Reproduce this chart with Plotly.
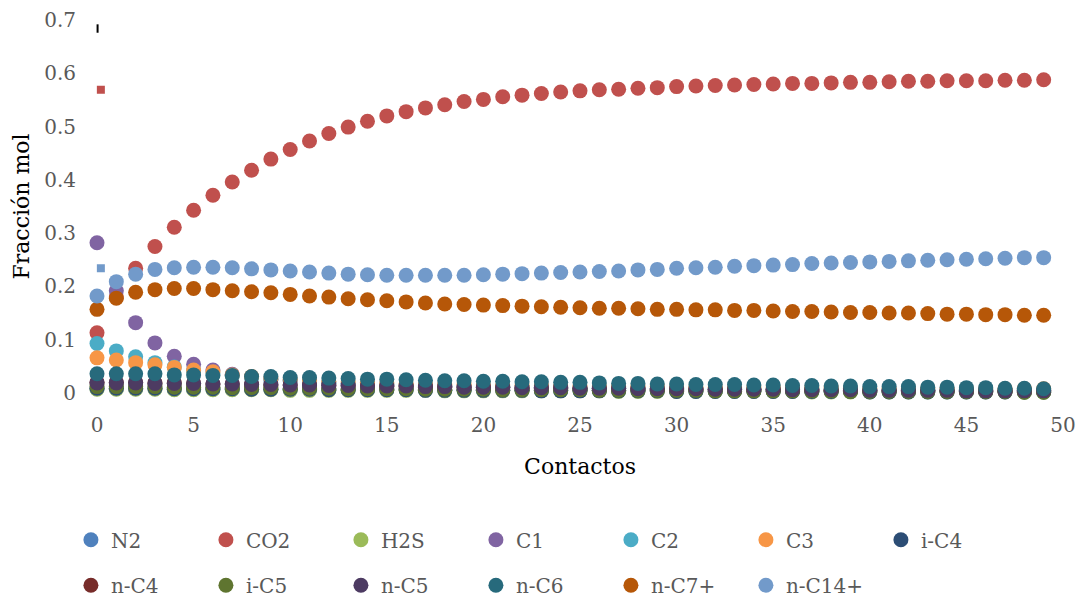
import plotly.graph_objects as go

# Contact number (x axis)
contactos = list(range(50))

# Mole fraction of each component after every contact
n2 = [0.008, 0.008, 0.008, 0.008, 0.007, 0.007, 0.007, 0.007, 0.007, 0.007,
      0.006, 0.006, 0.006, 0.006, 0.006, 0.006, 0.006, 0.006, 0.005, 0.005,
      0.005, 0.005, 0.005, 0.005, 0.005, 0.005, 0.005, 0.004, 0.004, 0.004,
      0.004, 0.004, 0.004, 0.004, 0.004, 0.004, 0.004, 0.003, 0.003, 0.003,
      0.003, 0.003, 0.003, 0.003, 0.003, 0.003, 0.003, 0.003, 0.002, 0.002]
co2 = [0.113, 0.180, 0.234, 0.275, 0.311, 0.343, 0.371, 0.396, 0.418, 0.439,
       0.457, 0.473, 0.487, 0.499, 0.510, 0.520, 0.528, 0.535, 0.541, 0.547,
       0.551, 0.556, 0.559, 0.562, 0.565, 0.567, 0.569, 0.570, 0.572, 0.573,
       0.575, 0.576, 0.577, 0.578, 0.579, 0.580, 0.581, 0.581, 0.582, 0.583,
       0.583, 0.584, 0.585, 0.585, 0.586, 0.586, 0.586, 0.587, 0.587, 0.588]
h2s = [0.007, 0.007, 0.007, 0.007, 0.006, 0.006, 0.006, 0.006, 0.006, 0.006,
       0.005, 0.005, 0.005, 0.005, 0.005, 0.005, 0.005, 0.005, 0.004, 0.004,
       0.004, 0.004, 0.004, 0.004, 0.004, 0.004, 0.004, 0.003, 0.003, 0.003,
       0.003, 0.003, 0.003, 0.003, 0.003, 0.003, 0.003, 0.002, 0.002, 0.002,
       0.002, 0.002, 0.002, 0.002, 0.002, 0.002, 0.002, 0.002, 0.001, 0.001]
c1 = [0.282, 0.192, 0.132, 0.094, 0.069, 0.054, 0.043, 0.035, 0.030, 0.026,
      0.023, 0.021, 0.019, 0.017, 0.016, 0.015, 0.014, 0.013, 0.012, 0.012,
      0.011, 0.011, 0.010, 0.010, 0.010, 0.009, 0.009, 0.009, 0.008, 0.008,
      0.008, 0.008, 0.007, 0.007, 0.007, 0.007, 0.007, 0.006, 0.006, 0.006,
      0.006, 0.006, 0.006, 0.005, 0.005, 0.005, 0.005, 0.005, 0.005, 0.005]
c2 = [0.093, 0.079, 0.068, 0.057, 0.049, 0.042, 0.036, 0.032, 0.028, 0.025,
      0.023, 0.021, 0.019, 0.018, 0.017, 0.016, 0.015, 0.014, 0.013, 0.013,
      0.012, 0.012, 0.011, 0.011, 0.011, 0.010, 0.010, 0.010, 0.010, 0.009,
      0.009, 0.009, 0.009, 0.009, 0.008, 0.008, 0.008, 0.008, 0.008, 0.008,
      0.007, 0.007, 0.007, 0.007, 0.007, 0.007, 0.007, 0.006, 0.006, 0.006]
c3 = [0.066, 0.062, 0.057, 0.053, 0.048, 0.043, 0.040, 0.034, 0.031, 0.028,
      0.026, 0.024, 0.022, 0.021, 0.020, 0.019, 0.018, 0.017, 0.016, 0.016,
      0.015, 0.015, 0.014, 0.014, 0.013, 0.013, 0.013, 0.012, 0.012, 0.012,
      0.011, 0.011, 0.011, 0.011, 0.010, 0.010, 0.010, 0.010, 0.010, 0.009,
      0.009, 0.009, 0.009, 0.009, 0.009, 0.008, 0.008, 0.008, 0.008, 0.008]
ic4 = [0.009, 0.009, 0.009, 0.009, 0.008, 0.008, 0.008, 0.008, 0.007, 0.007,
       0.007, 0.007, 0.006, 0.006, 0.006, 0.006, 0.006, 0.005, 0.005, 0.005,
       0.005, 0.005, 0.005, 0.004, 0.004, 0.004, 0.004, 0.004, 0.004, 0.004,
       0.003, 0.003, 0.003, 0.003, 0.003, 0.003, 0.003, 0.003, 0.003, 0.003,
       0.002, 0.002, 0.002, 0.002, 0.002, 0.002, 0.002, 0.002, 0.002, 0.002]
nc4 = [0.020, 0.020, 0.020, 0.019, 0.019, 0.018, 0.017, 0.017, 0.016, 0.015,
       0.015, 0.014, 0.014, 0.013, 0.013, 0.012, 0.012, 0.011, 0.011, 0.010,
       0.010, 0.010, 0.009, 0.009, 0.009, 0.008, 0.008, 0.008, 0.008, 0.007,
       0.007, 0.007, 0.007, 0.006, 0.006, 0.006, 0.006, 0.006, 0.005, 0.005,
       0.005, 0.005, 0.005, 0.005, 0.004, 0.004, 0.004, 0.004, 0.004, 0.004]
ic5 = [0.012, 0.012, 0.012, 0.012, 0.011, 0.011, 0.011, 0.010, 0.010, 0.010,
       0.009, 0.009, 0.009, 0.008, 0.008, 0.008, 0.008, 0.007, 0.007, 0.007,
       0.007, 0.006, 0.006, 0.006, 0.006, 0.006, 0.005, 0.005, 0.005, 0.005,
       0.005, 0.005, 0.004, 0.004, 0.004, 0.004, 0.004, 0.004, 0.004, 0.003,
       0.003, 0.003, 0.003, 0.003, 0.003, 0.003, 0.003, 0.003, 0.002, 0.002]
nc5 = [0.019, 0.019, 0.019, 0.018, 0.018, 0.018, 0.017, 0.017, 0.016, 0.016,
       0.015, 0.015, 0.014, 0.014, 0.013, 0.013, 0.013, 0.012, 0.012, 0.011,
       0.011, 0.011, 0.010, 0.010, 0.010, 0.009, 0.009, 0.009, 0.008, 0.008,
       0.008, 0.008, 0.007, 0.007, 0.007, 0.007, 0.006, 0.006, 0.006, 0.006,
       0.005, 0.005, 0.005, 0.005, 0.005, 0.004, 0.004, 0.004, 0.004, 0.004]
nc6 = [0.036, 0.036, 0.036, 0.036, 0.034, 0.034, 0.033, 0.033, 0.031, 0.031,
       0.029, 0.029, 0.028, 0.027, 0.026, 0.026, 0.025, 0.024, 0.023, 0.023,
       0.022, 0.022, 0.021, 0.021, 0.020, 0.020, 0.019, 0.018, 0.018, 0.017,
       0.017, 0.016, 0.016, 0.016, 0.015, 0.015, 0.014, 0.014, 0.013, 0.013,
       0.012, 0.012, 0.012, 0.011, 0.011, 0.010, 0.010, 0.009, 0.009, 0.008]
nc7 = [0.157, 0.178, 0.189, 0.194, 0.196, 0.196, 0.194, 0.192, 0.190, 0.188,
       0.185, 0.182, 0.180, 0.177, 0.175, 0.173, 0.171, 0.169, 0.167, 0.166,
       0.165, 0.164, 0.163, 0.162, 0.161, 0.160, 0.159, 0.159, 0.158, 0.157,
       0.157, 0.156, 0.156, 0.155, 0.155, 0.154, 0.153, 0.153, 0.152, 0.151,
       0.151, 0.150, 0.150, 0.149, 0.148, 0.148, 0.147, 0.147, 0.146, 0.146]
nc14 = [0.182, 0.209, 0.223, 0.232, 0.235, 0.236, 0.236, 0.235, 0.233, 0.231,
        0.229, 0.227, 0.225, 0.223, 0.222, 0.221, 0.221, 0.221, 0.221, 0.221,
        0.222, 0.223, 0.224, 0.225, 0.226, 0.227, 0.228, 0.229, 0.231, 0.232,
        0.234, 0.235, 0.236, 0.238, 0.239, 0.240, 0.241, 0.243, 0.244, 0.245,
        0.246, 0.247, 0.248, 0.249, 0.250, 0.251, 0.252, 0.253, 0.254, 0.254]

names = ["N2", "CO2", "H2S", "C1", "C2", "C3", "i-C4",
         "n-C4", "i-C5", "n-C5", "n-C6", "n-C7+", "n-C14+"]
series = [n2, co2, h2s, c1, c2, c3, ic4, nc4, ic5, nc5, nc6, nc7, nc14]
colors = ["#4F81BD", "#C0504D", "#9BBB59", "#8064A2", "#4BACC6", "#F79646",
          "#2C4D75", "#772C2A", "#5F7530", "#4D3B62", "#276A7C", "#B65708",
          "#729ACA"]

# Stray start-point ticks at contact 0
stray_x = [0.2, 0.2, 0.03]
stray_y = [0.569, 0.234, 0.684]
stray_colors = ["#C0504D", "#729ACA", "#000000"]
stray_symbols = ["square", "square", "line-ns"]

FONT = "DejaVu Serif"
GREY = "#595959"

fig = go.Figure()
for i, (name, ys, col) in enumerate(zip(names, series, colors)):
    fig.add_trace(go.Scatter(
        x=contactos, y=ys, name=name, mode="markers",
        marker=dict(size=15, color=col, line=dict(width=0)),
        cliponaxis=False,
        legend="legend" if i < 7 else "legend2",
    ))

fig.add_trace(go.Scatter(
    x=stray_x, y=stray_y, mode="markers", showlegend=False, cliponaxis=False,
    marker=dict(size=6, color=stray_colors, symbol=stray_symbols,
                line=dict(width=2, color=stray_colors)),
))

legend_common = dict(
    orientation="h", xanchor="left", yanchor="top",
    font=dict(family=FONT, size=20, color=GREY),
    entrywidth=90, entrywidthmode="pixels",
    bgcolor="rgba(0,0,0,0)", itemclick=False,
)

fig.update_layout(
    width=1083, height=603,
    margin=dict(l=97, r=20, t=20, b=210, autoexpand=False),
    paper_bgcolor="white", plot_bgcolor="white",
    font=dict(family=FONT, size=20, color=GREY),
    legend=dict(x=-0.027, y=-0.341, **legend_common),
    legend2=dict(x=-0.027, y=-0.463, **legend_common),
    xaxis=dict(
        range=[0, 50], tickvals=list(range(0, 51, 5)),
        showgrid=False, zeroline=False, showline=False, ticks="",
        ticklabelstandoff=18,
        tickfont=dict(family=FONT, size=20, color=GREY),
        title=dict(text="Contactos", standoff=22,
                   font=dict(family=FONT, size=22, color="#000000")),
    ),
    yaxis=dict(
        range=[0, 0.7], tickvals=[0, 0.1, 0.2, 0.3, 0.4, 0.5, 0.6, 0.7],
        ticktext=["0", "0.1", "0.2", "0.3", "0.4", "0.5", "0.6", "0.7"],
        showgrid=False, zeroline=False, showline=False, ticks="",
        ticklabelstandoff=20,
        tickfont=dict(family=FONT, size=20, color=GREY),
        title=dict(text="Fracción mol", standoff=8,
                   font=dict(family=FONT, size=22, color="#000000")),
    ),
)

fig.write_html("out.html")
